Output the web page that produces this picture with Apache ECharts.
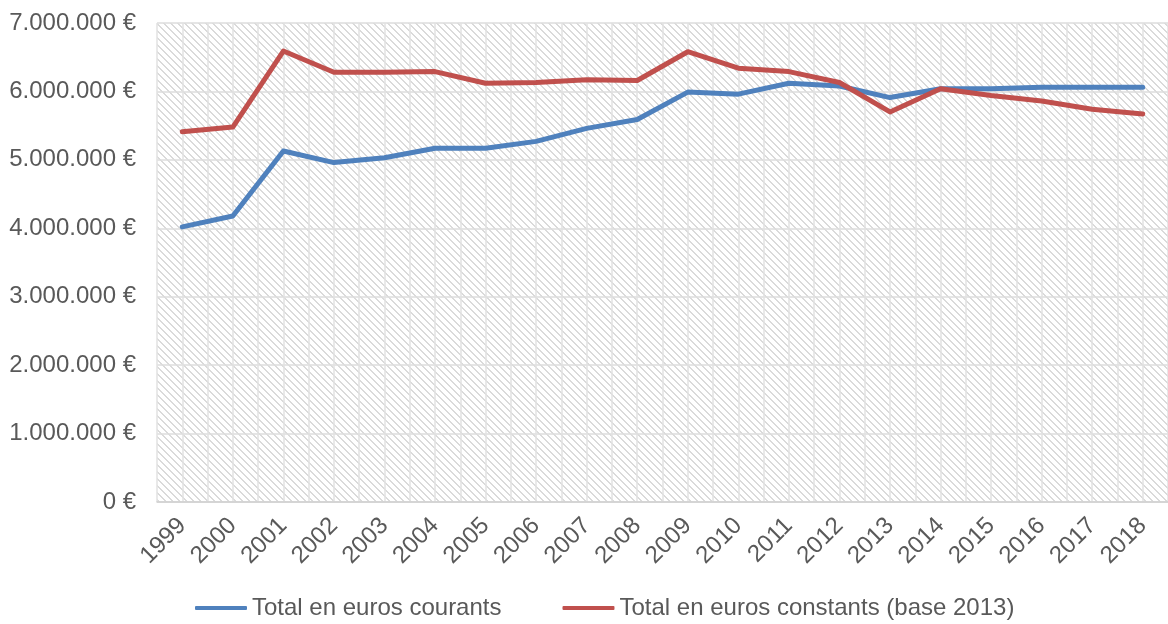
<!DOCTYPE html>
<html><head><meta charset="utf-8">
<script src="https://cdn.jsdelivr.net/npm/echarts@6/dist/echarts.min.js"></script>
<style>html,body{margin:0;padding:0;background:#fff}#c{width:1168px;height:624px}</style>
</head><body><div id="c"></div>
<script>
const years = ['1999','2000','2001','2002','2003','2004','2005','2006','2007','2008','2009','2010','2011','2012','2013','2014','2015','2016','2017','2018'];
const courants = [4020000,4180000,5130000,4960000,5030000,5170000,5170000,5270000,5460000,5590000,5990000,5960000,6120000,6080000,5910000,6040000,6040000,6060000,6060000,6060000];
const constants = [5410000,5480000,6590000,6280000,6280000,6290000,6120000,6130000,6170000,6160000,6580000,6340000,6290000,6130000,5700000,6040000,5940000,5860000,5740000,5670000];
const seriesNames = ['Total en euros courants','Total en euros constants (base 2013)'];
const yTicks = {min:0, max:7000000, interval:1000000};

const T = 7;
const tile = document.createElement('canvas');
tile.width = T; tile.height = T;
const tc = tile.getContext('2d');
tc.fillStyle = '#ffffff'; tc.fillRect(0,0,T,T);
tc.fillStyle = '#dadada';
for (let i = 0; i < T; i++) { tc.fillRect(i, i, 1, 1); tc.fillRect((i+1)%T, i, 1, 1); }

function fmt(v){ return String(v).replace(/\B(?=(\d{3})+(?!\d))/g,'.') + ' €'; }

const chart = echarts.init(document.getElementById('c'));
const font = 'Liberation Sans, Arial, sans-serif';
chart.setOption({
  animation:false,
  grid:{left:157, top:23, width:1014, bottom:122, show:true, backgroundColor:{image:tile, repeat:'repeat'}, borderWidth:0, containLabel:false},
  xAxis:[{
    type:'category', data:years, boundaryGap:true,
    axisLine:{show:true, lineStyle:{color:'#d0d0d0', width:1.5}},
    axisTick:{show:false},
    splitLine:{show:false},
    axisLabel:{rotate:45, margin:20, color:'#595959', fontSize:24, fontFamily:font}
  },{
    type:'value', min:0, max:40, interval:1, position:'bottom',
    axisLine:{show:false}, axisTick:{show:false}, axisLabel:{show:false},
    splitLine:{show:true, lineStyle:{color:'#e2e2e2', width:1.5}}
  }],
  yAxis:{
    type:'value', min:yTicks.min, max:yTicks.max, interval:yTicks.interval,
    axisLine:{show:false}, axisTick:{show:false},
    axisLabel:{formatter:fmt, color:'#595959', fontSize:24, fontFamily:font, margin:21},
    splitLine:{show:true, lineStyle:{color:'#dcdcdc', width:1.5}}
  },
  legend:{
    left:190, top:591, itemWidth:52, itemHeight:4, itemGap:61, icon:'roundRect',
    textStyle:{color:'#595959', fontSize:24, fontFamily:font},
    data:seriesNames
  },
  series:[
    {name:seriesNames[0], type:'line', data:courants, xAxisIndex:0, showSymbol:false, symbol:'none', lineStyle:{color:'#4f81bd', width:5, cap:'round', join:'round'}, itemStyle:{color:'#4f81bd'}},
    {name:seriesNames[1], type:'line', data:constants, xAxisIndex:0, showSymbol:false, symbol:'none', lineStyle:{color:'#c0504d', width:5, cap:'round', join:'round'}, itemStyle:{color:'#c0504d'}}
  ]
});
</script></body></html>
